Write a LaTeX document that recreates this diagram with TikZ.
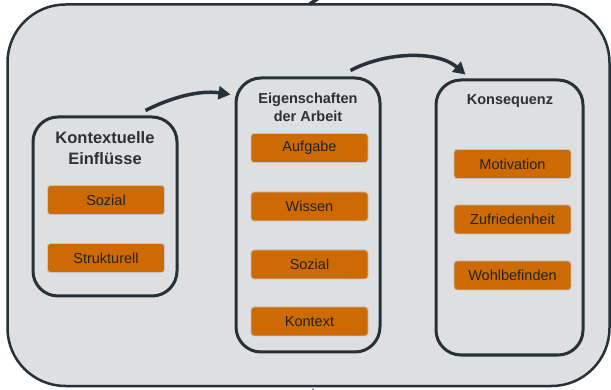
\documentclass[tikz,border=0pt]{standalone}
\usepackage{fontspec}
\setmainfont{Liberation Sans}
\usetikzlibrary{arrows.meta,calc}
\definecolor{bgfill}{HTML}{DEDFE1}
\definecolor{darkline}{HTML}{263238}
\definecolor{titletext}{HTML}{2B3135}
\definecolor{orangefill}{HTML}{CD6A04}
\definecolor{orangeedge}{HTML}{C4C4C4}
\definecolor{labeltext}{HTML}{222222}
\tikzset{
  bigbox/.style={draw=darkline, line width=3pt, fill=bgfill, rounded corners=25pt, inner sep=0pt},
  titlenode/.style={text=titletext, font=\bfseries\fontsize{14.5}{18}\selectfont, align=center, inner sep=0pt},
  bigtitle/.style={text=titletext, font=\bfseries\fontsize{16.5}{21}\selectfont, align=center, inner sep=0pt},
  itembox/.style={draw=orangeedge, line width=0.8pt, fill=orangefill, rounded corners=3pt,
    minimum width=117pt, minimum height=29pt, inner sep=0pt, text=labeltext,
    font=\fontsize{14.5}{17}\selectfont},
  flowarrow/.style={draw=darkline, line width=3.5pt, -{Triangle[length=12pt,width=13pt]}},
  flowline/.style={draw=darkline, line width=3.5pt}
}
\begin{document}
\begin{tikzpicture}[x=1pt,y=-1pt]
\useasboundingbox (0,0) rectangle (611,390);
\fill[white] (0,0) rectangle (611,390);
% outer frame
\node[draw=darkline, line width=2.5pt, fill=bgfill, rounded corners=58pt, inner sep=0pt,
  minimum width=602pt, minimum height=381.5pt] (frame) at (308.5,195.25) {};
% fragments of loop arrow leaving/entering the frame
\coordinate (topout) at (328,-8);
\coordinate (botin) at (313,402);
\draw[flowline] ($(frame.north)+(1,1)$) -- (topout);
\draw[flowarrow] (botin) -- ($(frame.south)+(4.5,1)$);
% three main boxes
\node[bigbox, minimum width=144pt, minimum height=179pt] (L) at (105,206.5) {};
\node[bigbox, minimum width=144pt, minimum height=274pt] (M) at (308,215) {};
\node[bigbox, minimum width=147pt, minimum height=275pt] (R) at (509.5,217.5) {};
% titles
\node[bigtitle] (Lt) at (105,148.5) {Kontextuelle\\Einflüsse};
\node[titlenode] (Mt) at (308,107) {Eigenschaften\\der Arbeit};
\node[titlenode] (Rt) at (510,101) {Konsequenz};
% items
\node[itembox] (l1) at (106,200) {Sozial};
\node[itembox] (l2) at (106,258) {Strukturell};
\node[itembox] (m1) at (309.5,148) {Aufgabe};
\node[itembox] (m2) at (309.5,206.5) {Wissen};
\node[itembox] (m3) at (309.5,264.5) {Sozial};
\node[itembox] (m4) at (309.5,321.5) {Kontext};
\node[itembox] (r1) at (512.5,164) {Motivation};
\node[itembox] (r2) at (512.5,219.5) {Zufriedenheit};
\node[itembox] (r3) at (512.5,275.5) {Wohlbefinden};
% arrows between boxes
\draw[flowarrow] ($(L.north east)+(-33,-5)$) .. controls (172,97) and (200,90) .. ($(M.north west)+(-4,18)$);
\draw[flowarrow] ($(M.north east)+(-31,-6)$) .. controls (385,52) and (437,50) .. ($(R.north west)+(31,-4)$);
\end{tikzpicture}
\end{document}
